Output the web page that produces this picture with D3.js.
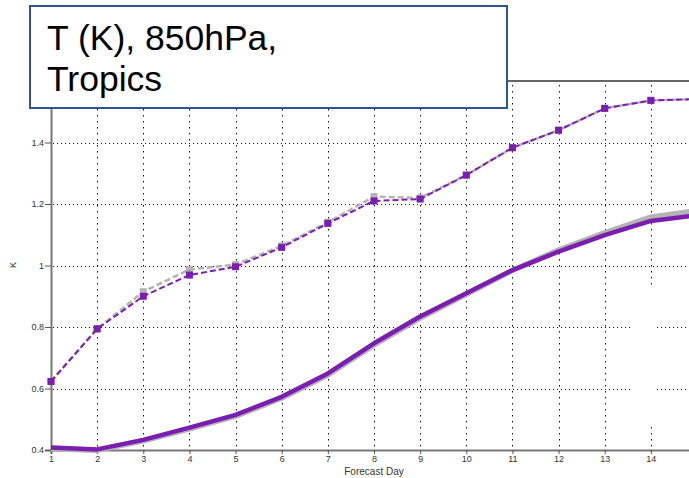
<!DOCTYPE html>
<html>
<head>
<meta charset="utf-8">
<script src="https://cdn.jsdelivr.net/npm/d3@7"></script>
<style>
  html, body { margin: 0; padding: 0; background: #fff; }
  svg { display: block; font-family: "Liberation Sans", Arial, sans-serif; }
</style>
</head>
<body>
<svg id="chart" width="689" height="478"></svg>
<script>
// ---- data ----
const days = [1, 2, 3, 4, 5, 6, 7, 8, 9, 10, 11, 12, 13, 14, 15];
const purpleDashed = [0.623, 0.794, 0.900, 0.969, 0.996, 1.059, 1.137, 1.210, 1.216, 1.294, 1.383, 1.440, 1.511, 1.537, 1.541];
const greyDashed   = [0.623, 0.794, 0.915, 0.987, 1.003, 1.064, 1.141, 1.224, 1.220, 1.294, 1.383, 1.440, 1.511, 1.537, 1.541];
const purpleSolid  = [0.408, 0.402, 0.433, 0.473, 0.514, 0.573, 0.649, 0.747, 0.834, 0.910, 0.985, 1.045, 1.099, 1.145, 1.163];
const greySolid    = [0.404, 0.399, 0.430, 0.469, 0.510, 0.569, 0.644, 0.742, 0.829, 0.906, 0.984, 1.050, 1.106, 1.157, 1.178];
const xTicks = [1, 2, 3, 4, 5, 6, 7, 8, 9, 10, 11, 12, 13, 14];
const yTicks = [0.4, 0.6, 0.8, 1, 1.2, 1.4];
const yTickLabels = ["0.4", "0.6", "0.8", "1", "1.2", "1.4"];
const titleLines = ["T (K), 850hPa,", "Tropics"];
const xLabel = "Forecast Day";
const yLabel = "K";

// ---- layout ----
const W = 689, H = 478;
const pLeft = 51, pRight = 697, pTop = 81, pBottom = 450;
const purple = "#7a1db0", grey = "#b4b4b4";

const svg = d3.select("#chart");
const x = d3.scaleLinear().domain([1, 15]).range([pLeft, pRight]);
const y = d3.scaleLinear().domain([0.4, 1.6]).range([pBottom, pTop]);

// grid
const grid = svg.append("g");
grid.selectAll("line.v").data(xTicks.slice(1)).join("line")
  .attr("x1", d => Math.round(x(d)) + 0.5).attr("x2", d => Math.round(x(d)) + 0.5)
  .attr("y1", pTop + 4).attr("y2", pBottom - 3)
  .attr("stroke", "#111").attr("stroke-width", 1).attr("stroke-dasharray", "1.5,4.5");
grid.selectAll("line.h").data(yTicks.slice(1)).join("line")
  .attr("x1", pLeft + 2).attr("x2", W)
  .attr("y1", d => Math.round(y(d)) + 0.5).attr("y2", d => Math.round(y(d)) + 0.5)
  .attr("stroke", "#111").attr("stroke-width", 1).attr("stroke-dasharray", "1,3");
// blank patch in the grid
svg.append("rect").attr("x", 630).attr("y", 288).attr("width", 27).attr("height", 139).attr("fill", "#fff");

// frame top line
svg.append("line").attr("x1", pLeft).attr("x2", W).attr("y1", pTop).attr("y2", pTop)
  .attr("stroke", "#333").attr("stroke-width", 1.5);

// axes
const yAxis = d3.axisLeft(y).tickValues(yTicks).tickFormat((d, i) => yTickLabels[i]).tickSize(6).tickPadding(1);
const gy = svg.append("g").attr("transform", `translate(${pLeft},0)`).call(yAxis);
gy.select(".domain").attr("stroke", "#777").attr("stroke-width", 2);
gy.selectAll(".tick line").attr("stroke", "#555");
gy.selectAll(".tick text").attr("font-size", 9).attr("fill", "#333").attr("font-family", "Liberation Sans, Arial, sans-serif");

const xAxis = d3.axisBottom(x).tickValues(xTicks).tickFormat(d3.format("d")).tickSize(4).tickPadding(2);
const gx = svg.append("g").attr("transform", `translate(0,${pBottom})`).call(xAxis);
gx.select(".domain").attr("stroke", "#777").attr("stroke-width", 2);
gx.selectAll(".tick line").attr("stroke", "#555");
gx.selectAll(".tick text").attr("font-size", 9).attr("fill", "#333").attr("font-family", "Liberation Sans, Arial, sans-serif");

svg.append("text").attr("x", (pLeft + pRight) / 2).attr("y", 475).attr("text-anchor", "middle")
  .attr("font-size", 10).attr("fill", "#333").text(xLabel);
svg.append("text").attr("transform", "translate(16,265) rotate(-90)").attr("text-anchor", "middle")
  .attr("font-size", 9).attr("fill", "#333").text(yLabel);

// series
const line = d3.line().x((d, i) => x(days[i])).y(d => y(d));
svg.append("path").datum(greySolid).attr("d", line).attr("fill", "none")
  .attr("stroke", grey).attr("stroke-width", 5.5).attr("stroke-linejoin", "round");
svg.append("path").datum(purpleSolid).attr("d", line).attr("fill", "none")
  .attr("stroke", purple).attr("stroke-width", 4.5).attr("stroke-linejoin", "round");

svg.append("path").datum(greyDashed).attr("d", line).attr("fill", "none")
  .attr("stroke", grey).attr("stroke-width", 2.5).attr("stroke-dasharray", "6,3");
svg.selectAll("rect.gm").data(greyDashed).join("rect").attr("class", "gm")
  .attr("x", (d, i) => x(days[i]) - 3.5).attr("y", d => y(d) - 3.5)
  .attr("width", 7).attr("height", 7).attr("fill", grey);

svg.append("path").datum(purpleDashed).attr("d", line).attr("fill", "none")
  .attr("stroke", purple).attr("stroke-width", 2).attr("stroke-dasharray", "6,3");
svg.selectAll("rect.pm").data(purpleDashed).join("rect").attr("class", "pm")
  .attr("x", (d, i) => x(days[i]) - 3.5).attr("y", d => y(d) - 3.5)
  .attr("width", 7).attr("height", 7).attr("fill", purple);

// title box
const tb = svg.append("g");
tb.append("rect").attr("x", 30).attr("y", 6).attr("width", 477).attr("height", 102)
  .attr("fill", "#fff").attr("stroke", "#2f5590").attr("stroke-width", 2);
tb.selectAll("text").data(titleLines).join("text")
  .attr("x", 47).attr("y", (d, i) => 50 + i * 40.5)
  .attr("font-size", 35.5).attr("fill", "#000").text(d => d);
</script>
</body>
</html>
